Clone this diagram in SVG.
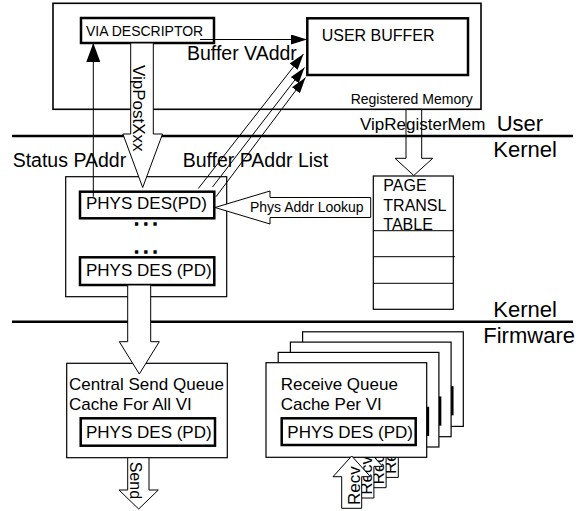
<svg xmlns="http://www.w3.org/2000/svg" width="579" height="511" viewBox="0 0 579 511">
  <style>
    text { font-family: "Liberation Sans", Arial, sans-serif; fill: #000; }
    .box { fill: #fff; stroke: #000; stroke-width: 1.2; }
    .frame { fill: #fff; stroke: #000; stroke-width: 1.6; }
    .pd { fill: #fff; stroke: #000; stroke-width: 2.5; }
    .sep { stroke: #000; stroke-width: 2.5; fill: none; }
    .ln { stroke: #000; stroke-width: 1; fill: none; }
    .blk { fill: #fff; stroke: #000; stroke-width: 1; }
    .hollow { fill: none; stroke: #000; stroke-width: 1; }
    .s14 { font-size: 14px; }
    .s16 { font-size: 16px; }
    .s17 { font-size: 17px; }
    .s19 { font-size: 19.5px; }
    .s22 { font-size: 22px; }
    .dots { font-size: 13px; font-weight: bold; letter-spacing: 5.6px; stroke: #000; stroke-width: 1.4; }
  </style>
  <defs>
    <marker id="head" markerWidth="16" markerHeight="10" refX="16" refY="5" orient="auto" markerUnits="userSpaceOnUse">
      <path d="M0,0 L16,5 L0,10 z" fill="#000"/>
    </marker>
    <marker id="headL" markerWidth="19" markerHeight="14" refX="19" refY="7" orient="auto" markerUnits="userSpaceOnUse">
      <path d="M0,0 L19,7 L0,14 z" fill="#000"/>
    </marker>
  </defs>

  <rect width="579" height="511" fill="#fff"/>

  <!-- user space: registered memory region -->
  <g id="registered-memory">
    <rect class="frame" x="53" y="3.3" width="428" height="106"/>
    <text class="s14" x="350.7" y="104">Registered Memory</text>
  </g>
  <g id="via-descriptor">
    <rect class="pd" x="81" y="18" width="133" height="25"/>
    <text class="s14" x="86" y="35.7">VIA DESCRIPTOR</text>
  </g>
  <g id="user-buffer">
    <rect class="pd" x="307.3" y="18.3" width="160.7" height="56.7"/>
    <text class="s16" x="321.7" y="41">USER BUFFER</text>
  </g>

  <!-- layer boundaries -->
  <g id="layers">
    <line class="sep" x1="12" y1="136" x2="573" y2="136"/>
    <line class="sep" x1="12" y1="321.7" x2="573" y2="321.7"/>
    <text class="s22" x="496.7" y="131">User</text>
    <text class="s22" x="493.3" y="156.7">Kernel</text>
    <text class="s22" x="493.3" y="316.7">Kernel</text>
    <text class="s22" x="483.3" y="343">Firmware</text>
  </g>

  <!-- kernel: physical descriptors -->
  <g id="kernel-descriptors">
    <rect class="box" x="65.7" y="176.7" width="161" height="120"/>
    <rect class="pd" x="80" y="191.7" width="134.3" height="26.6"/>
    <text class="s17" x="86" y="209.3">PHYS DES(PD)</text>
    <text class="dots" x="134.8" y="225.3">...</text>
    <text class="dots" x="134.8" y="252.6">...</text>
    <rect class="pd" x="80" y="257.3" width="134.3" height="27.7"/>
    <text class="s17" x="86" y="276">PHYS DES (PD)</text>
  </g>

  <g id="page-table">
    <rect class="box" x="373.3" y="176" width="80" height="133.3"/>
    <line class="ln" x1="373.3" y1="230.7" x2="453.3" y2="230.7"/>
    <line class="ln" x1="373.3" y1="256.7" x2="455" y2="256.7"/>
    <line class="ln" x1="373.3" y1="283.3" x2="453.3" y2="283.3"/>
    <text class="s16" x="383.3" y="190.7">PAGE</text>
    <text class="s16" x="383.3" y="210.7">TRANSL</text>
    <text class="s16" x="383.3" y="230">TABLE</text>
  </g>

  <!-- firmware: send queue cache -->
  <g id="send-queue">
    <rect class="box" x="66.7" y="363.3" width="160.6" height="94.4"/>
    <text class="s17" x="69" y="390">Central Send Queue</text>
    <text class="s17" x="69" y="410">Cache For All VI</text>
    <rect class="pd" x="80.7" y="418.3" width="134.3" height="27.4"/>
    <text class="s17" x="86" y="437.7">PHYS DES (PD)</text>
  </g>

  <!-- firmware: per-VI receive queue caches, back to front (back cards are covered except their edges) -->
  <g id="receive-queue-3" transform="translate(36.6,-30.9)">
    <rect class="box" x="266" y="362.7" width="160.7" height="94.6"/>
    <rect class="pd" x="281.7" y="418.3" width="134" height="26.7"/>
    <polygon class="blk" points="341.7,508.3 341.7,476.7 333,476.7 351.7,456 370.4,476.7 361.7,476.7 361.7,508.3"/>
    <text class="s17" transform="translate(359.5,505) rotate(-90)">Recv</text>
  </g>
  <g id="receive-queue-2" transform="translate(24.4,-20.6)">
    <rect class="box" x="266" y="362.7" width="160.7" height="94.6"/>
    <rect class="pd" x="281.7" y="418.3" width="134" height="26.7"/>
    <polygon class="blk" points="341.7,508.3 341.7,476.7 333,476.7 351.7,456 370.4,476.7 361.7,476.7 361.7,508.3"/>
    <text class="s17" transform="translate(359.5,505) rotate(-90)">Recv</text>
  </g>
  <g id="receive-queue-1" transform="translate(12.2,-10.3)">
    <rect class="box" x="266" y="362.7" width="160.7" height="94.6"/>
    <rect class="pd" x="281.7" y="418.3" width="134" height="26.7"/>
    <polygon class="blk" points="341.7,508.3 341.7,476.7 333,476.7 351.7,456 370.4,476.7 361.7,476.7 361.7,508.3"/>
    <text class="s17" transform="translate(359.5,505) rotate(-90)">Recv</text>
  </g>
  <g id="receive-queue-0">
    <rect class="box" x="266" y="362.7" width="160.7" height="94.6"/>
    <text class="s17" x="280.7" y="390">Receive Queue</text>
    <text class="s17" x="280.7" y="410">Cache Per VI</text>
    <rect class="pd" x="281.7" y="418.3" width="134" height="26.7"/>
    <text class="s17" x="287.3" y="438.3">PHYS DES (PD)</text>
    <polygon class="blk" points="341.7,508.3 341.7,476.7 333,476.7 351.7,456 370.4,476.7 361.7,476.7 361.7,508.3"/>
    <text class="s17" transform="translate(359.5,505) rotate(-90)">Recv</text>
  </g>

  <!-- connectors -->
  <g id="connectors">
    <!-- VipPostXxx: descriptor posted down into kernel -->
    <polygon class="blk" points="130.7,43 153.3,43 153.3,134 162.5,134 142.7,187.5 122.9,134 130.7,134"/>
    <text class="s17" transform="translate(133,65) rotate(90)">VipPostXxx</text>

    <!-- VipRegisterMem: registered memory to page table -->
    <polygon class="hollow" points="406,109.3 421.7,109.3 421.7,158.3 432.7,158.3 413.8,175.5 395,158.3 406,158.3"/>
    <text class="s17" x="360" y="130">VipRegisterMem</text>

    <!-- Phys Addr Lookup: page table back to descriptor -->
    <polygon class="blk" points="215,207.5 270,191 270,197.5 370.7,197.5 370.7,217.5 270,217.5 270,224"/>
    <text class="s14" x="250" y="211.7">Phys Addr Lookup</text>

    <!-- descriptor down to firmware send queue -->
    <polygon class="blk" points="127.7,285 150.7,285 150.7,341.7 159.3,341.7 139.3,374 119.3,341.7 127.7,341.7"/>

    <!-- Send out of the send queue -->
    <polygon class="blk" points="127.7,457.7 149,457.7 149,490 158.3,490 138.7,509 119,490 127.7,490"/>
    <text class="s16" transform="translate(130,461.7) rotate(90)">Send</text>

    <!-- Status PAddr -->
    <line class="ln" x1="93.3" y1="196.7" x2="93.3" y2="43" marker-end="url(#headL)"/>
    <text class="s19" x="12.7" y="166.7">Status PAddr</text>

    <!-- Buffer VAddr -->
    <line class="ln" x1="200" y1="39.5" x2="307" y2="39.5" marker-end="url(#head)"/>
    <text class="s19" x="187" y="60">Buffer VAddr</text>

    <!-- Buffer PAddr List -->
    <line class="ln" x1="198.3" y1="188.5" x2="303.5" y2="54" marker-end="url(#head)"/>
    <line class="ln" x1="212.5" y1="187" x2="304.5" y2="67.5" marker-end="url(#head)"/>
    <line class="ln" x1="216" y1="196.7" x2="305.5" y2="77.5" marker-end="url(#head)"/>
    <text class="s19" x="182.7" y="166.7">Buffer PAddr List</text>
  </g>
</svg>
